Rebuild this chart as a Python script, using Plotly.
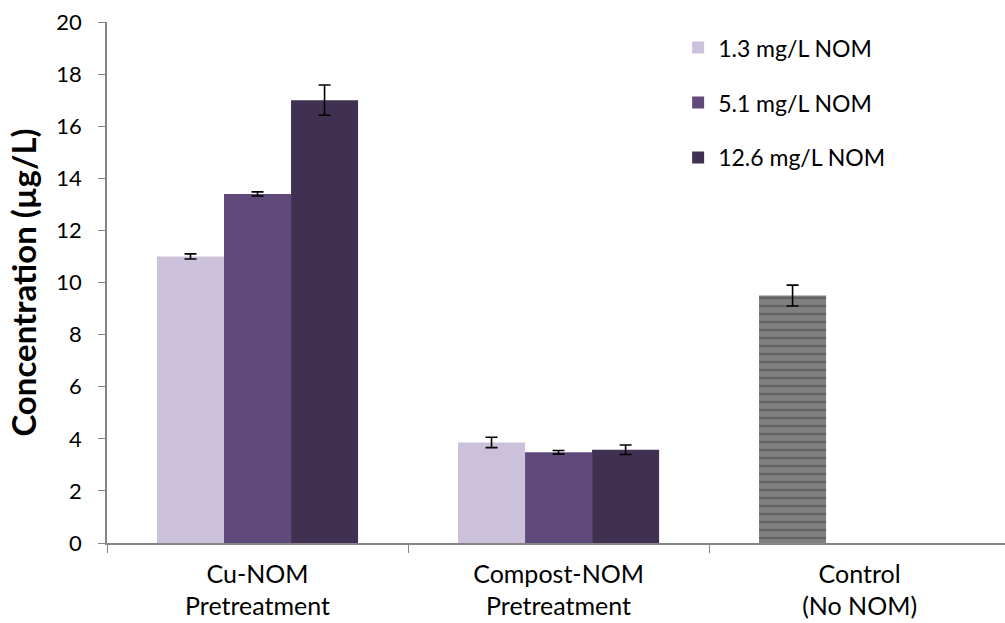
import plotly.graph_objects as go

# Data
categories = ["Cu-NOM<br>Pretreatment", "Compost-NOM<br>Pretreatment", "Control<br>(No NOM)"]
series_names = ["1.3 mg/L NOM", "5.1 mg/L NOM", "12.6 mg/L NOM"]
nom_low = [11.0, 3.86, 9.5]
nom_low_err = [0.1, 0.2, 0.4]
nom_mid = [13.4, 3.48, None]
nom_mid_err = [0.08, 0.07, None]
nom_high = [17.0, 3.58, None]
nom_high_err = [0.58, 0.18, None]
y_ticks = list(range(0, 21, 2))

colors = ["#CCC1DA", "#604A7B", "#403152"]
control_color = "#808080"

FONT = "Lato, 'Open Sans', sans-serif"

err_style = dict(type="data", color="black", thickness=1.6, width=6)

fig = go.Figure()

# first series also carries the control bar, drawn in grey with a dashed pattern
fig.add_trace(go.Bar(
    x=categories, y=nom_low, name=series_names[0],
    marker=dict(
        color=[colors[0], colors[0], control_color],
        line=dict(width=0),
        pattern=dict(shape=["", "", "-"], fgcolor="#1e1e1e", size=8, solidity=0.28),
    ),
    error_y=dict(array=nom_low_err, **err_style),
    legendgroup="a",
))
fig.add_trace(go.Bar(
    x=categories, y=nom_mid, name=series_names[1],
    marker=dict(color=colors[1], line=dict(width=0)),
    error_y=dict(array=nom_mid_err, **err_style),
    legendgroup="b",
))
fig.add_trace(go.Bar(
    x=categories, y=nom_high, name=series_names[2],
    marker=dict(color=colors[2], line=dict(width=0)),
    error_y=dict(array=nom_high_err, **err_style),
    legendgroup="c",
))

fig.update_layout(
    width=1005, height=623,
    margin=dict(l=107, r=0, t=22, b=80),
    paper_bgcolor="white", plot_bgcolor="white",
    barmode="group", bargap=0.332, bargroupgap=0,
    font=dict(family=FONT, size=22, color="black"),
    showlegend=True,
    legend=dict(
        x=0.636, y=0.992, xanchor="left", yanchor="top",
        font=dict(family=FONT, size=23, color="black"),
        tracegroupgap=22, itemwidth=30,
        bgcolor="rgba(0,0,0,0)",
    ),
)

fig.update_xaxes(
    type="category", range=[-0.5, 2.483],
    showline=True, linecolor="#868686", linewidth=1.5,
    ticks="outside", tickson="boundaries", ticklen=8, tickcolor="#868686", tickwidth=1,
    tickfont=dict(family=FONT, size=25, color="black"),
    ticklabelstandoff=8,
    showgrid=False, zeroline=False,
)
fig.update_yaxes(
    range=[0, 20], tickvals=y_ticks,
    showline=True, linecolor="#868686", linewidth=1.5,
    ticks="outside", ticklen=7, tickcolor="#868686", tickwidth=1,
    tickfont=dict(family=FONT, size=22, color="black"),
    ticklabelstandoff=12,
    showgrid=False, zeroline=False,
    title=dict(text="<b>Concentration (µg/L)</b>", font=dict(family=FONT, size=33, color="black"), standoff=10),
)

fig.write_html("out.html")
